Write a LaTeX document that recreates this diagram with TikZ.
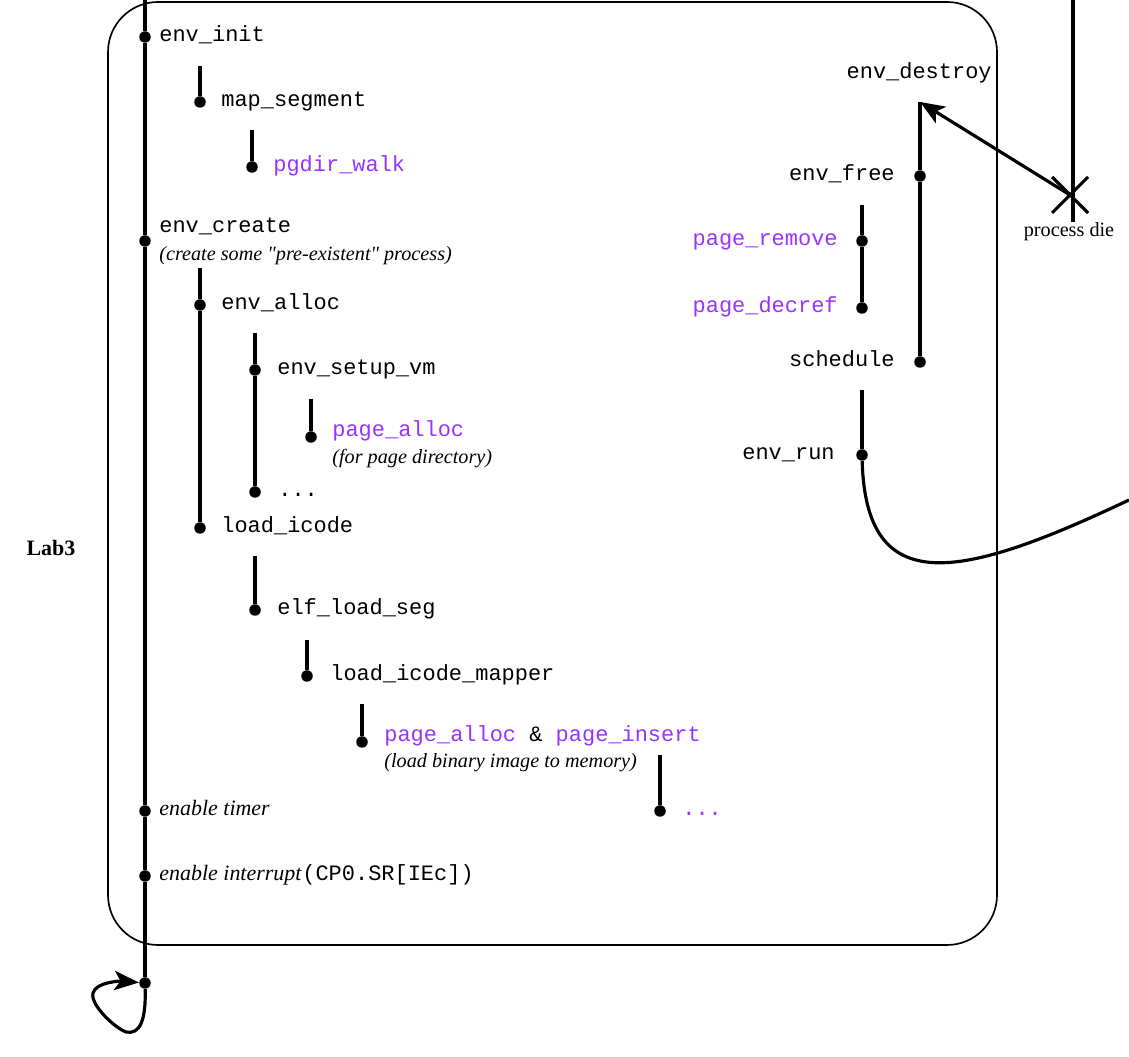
\documentclass[tikz,border=0pt]{standalone}
\usepackage{fontspec}
\setmainfont{Liberation Serif}
\setmonofont{Liberation Mono}
\newfontfamily\notefont{Liberation Serif}
\usetikzlibrary{arrows.meta}
\definecolor{fnpurple}{RGB}{153,51,255}
\tikzset{
  flow/.style={line width=1.8pt},
  dot/.style={circle, fill=black, inner sep=0pt, minimum size=0.23cm},
  fn/.style={font=\fontsize{12.5}{15}\selectfont\ttfamily, inner sep=0pt, text height=5.5pt, text depth=0pt},
  fnw/.style={fn, anchor=west},
  fne/.style={fn, anchor=east},
  note/.style={font=\fontsize{11.5}{14}\selectfont\itshape, anchor=west, inner sep=0pt, text height=5.5pt, text depth=0pt},
  call/.style={text=fnpurple},
  tip/.style={-{Stealth[length=14pt,width=11pt,inset=3.5pt]}},
}
\begin{document}
\begin{tikzpicture}
    \useasboundingbox (0,0) rectangle (22.58,21.14);

    % Lab frame
    \draw[line width=0.95pt, rounded corners=1cm] (2.16,2.24) rectangle (19.94,21.10);
    \node[font=\fontsize{12.5}{15}\selectfont\bfseries] (lab) at (1.02,10.18) {Lab3};

    % Main thread
    \coordinate (main_top) at (2.90,21.14);
    \node[dot] (d_init) at (2.90,20.40) {};
    \node[dot] (d_create) at (2.90,16.32) {};
    \node[dot] (d_timer) at (2.90,4.92) {};
    \node[dot] (d_intr) at (2.90,3.62) {};
    \node[dot] (d_loop) at (2.90,1.48) {};
    \draw[flow] (main_top) -- (d_init) -- (d_create) -- (d_timer) -- (d_intr) -- (d_loop);
    \draw[flow, tip] (d_loop) .. controls (2.92,0.74) and (2.80,0.44) .. (2.52,0.50)
        .. controls (2.30,0.58) and (1.80,1.04) .. (1.86,1.28)
        .. controls (1.92,1.50) and (2.40,1.52) .. (d_loop);

    \node[fnw] (l_init) at (3.18,20.40) {env\_init};
    \node[fnw] (l_create) at (3.18,16.58) {env\_create};
    \node[note, font=\fontsize{11.5}{14}\selectfont\notefont\itshape] (n_create) at (3.18,16.02) {(create some "pre-existent" process)};
    \node[note, font=\fontsize{12.5}{15}\selectfont\itshape] (l_timer) at (3.18,4.92) {enable timer};
    \node[note, font=\fontsize{12.5}{15}\selectfont] (l_intr) at (3.18,3.62) {{\itshape enable interrupt}\hspace{0.5pt}{\ttfamily (CP0.SR[IEc])}};

    % env_init calls
    \coordinate (s_map) at (4.00,19.82);
    \node[dot] (d_map) at (4.00,19.10) {};
    \draw[flow] (s_map) -- (d_map);
    \node[fnw] (l_map) at (4.42,19.10) {map\_segment};

    \coordinate (s_walk) at (5.04,18.54);
    \node[dot] (d_walk) at (5.04,17.80) {};
    \draw[flow] (s_walk) -- (d_walk);
    \node[fnw, call] (l_walk) at (5.46,17.80) {pgdir\_walk};

    % env_create calls
    \coordinate (s_alloc) at (4.00,15.78);
    \node[dot] (d_alloc) at (4.00,15.04) {};
    \node[dot] (d_icode) at (4.00,10.58) {};
    \draw[flow] (s_alloc) -- (d_alloc) -- (d_icode);
    \node[fnw] (l_alloc) at (4.42,15.04) {env\_alloc};
    \node[fnw] (l_icode) at (4.42,10.58) {load\_icode};

    \coordinate (s_setup) at (5.10,14.48);
    \node[dot] (d_setup) at (5.10,13.74) {};
    \node[dot] (d_more) at (5.10,11.30) {};
    \draw[flow] (s_setup) -- (d_setup) -- (d_more);
    \node[fnw] (l_setup) at (5.54,13.74) {env\_setup\_vm};
    \node[fnw] (l_more) at (5.56,11.30) {...};

    \coordinate (s_pgdir) at (6.22,13.16);
    \node[dot] (d_pgdir) at (6.22,12.40) {};
    \draw[flow] (s_pgdir) -- (d_pgdir);
    \node[fnw, call] (l_pgdir) at (6.64,12.50) {page\_alloc};
    \node[note] (n_pgdir) at (6.64,11.96) {(for page directory)};

    % load_icode calls
    \coordinate (s_elf) at (5.10,10.02);
    \node[dot] (d_elf) at (5.10,8.94) {};
    \draw[flow] (s_elf) -- (d_elf);
    \node[fnw] (l_elf) at (5.54,8.94) {elf\_load\_seg};

    \coordinate (s_mapper) at (6.14,8.34);
    \node[dot] (d_mapper) at (6.14,7.62) {};
    \draw[flow] (s_mapper) -- (d_mapper);
    \node[fnw] (l_mapper) at (6.60,7.62) {load\_icode\_mapper};

    \coordinate (s_ins) at (7.24,7.06);
    \node[dot] (d_ins) at (7.24,6.30) {};
    \draw[flow] (s_ins) -- (d_ins);
    \node[fnw] (l_ins) at (7.68,6.40) {\textcolor{fnpurple}{page\_alloc} \& \textcolor{fnpurple}{page\_insert}};
    \node[note] (n_ins) at (7.68,5.88) {(load binary image to memory)};

    \coordinate (s_tail) at (13.20,6.04);
    \node[dot] (d_tail) at (13.20,4.92) {};
    \draw[flow] (s_tail) -- (d_tail);
    \node[fnw, call] (l_tail) at (13.64,4.92) {...};

    % Process death
    \coordinate (proc_top) at (21.46,21.14);
    \coordinate (proc_end) at (21.46,16.70);
    \draw[flow] (proc_top) -- (proc_end);
    \coordinate (die) at (21.40,17.24);
    \draw[flow] ([shift={(-0.36,0.36)}]die) -- ([shift={(0.36,-0.36)}]die);
    \draw[flow] ([shift={(-0.36,-0.36)}]die) -- ([shift={(0.36,0.36)}]die);
    \node[font=\fontsize{11.5}{14}\selectfont, inner sep=0pt, text height=5.5pt, text depth=0pt] (l_die) at (21.38,16.50) {process die};

    % env_destroy
    \node[fne] (l_destroy) at (19.84,19.66) {env\_destroy};
    \coordinate (apex) at (18.40,19.10);
    \node[dot] (d_free) at (18.40,17.62) {};
    \node[dot] (d_sched) at (18.40,13.90) {};
    \draw[flow, tip] (die) -- (apex);
    \draw[flow] (apex) -- (d_free) -- (d_sched);
    \node[fne] (l_free) at (17.90,17.62) {env\_free};
    \node[fne] (l_sched) at (17.90,13.90) {schedule};

    \coordinate (s_remove) at (17.24,17.04);
    \node[dot] (d_remove) at (17.24,16.32) {};
    \node[dot] (d_decref) at (17.24,14.98) {};
    \draw[flow] (s_remove) -- (d_remove) -- (d_decref);
    \node[fne, call] (l_remove) at (16.76,16.32) {page\_remove};
    \node[fne, call] (l_decref) at (16.76,14.98) {page\_decref};

    % env_run
    \coordinate (s_run) at (17.24,13.34);
    \node[dot] (d_run) at (17.24,12.04) {};
    \coordinate (run_end) at (22.58,11.14);
    \draw[flow] (s_run) -- (d_run);
    \draw[flow] (d_run) .. controls (17.32,9.14) and (19.20,9.54) .. (run_end);
    \node[fne] (l_run) at (16.70,12.04) {env\_run};
\end{tikzpicture}
\end{document}
